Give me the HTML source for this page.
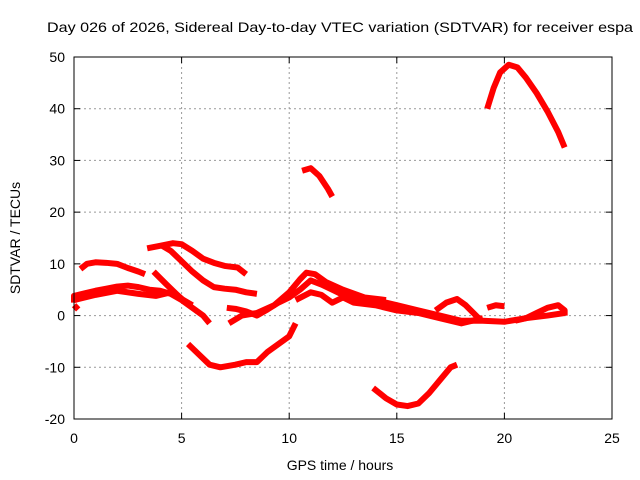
<!DOCTYPE html>
<html><head><meta charset="utf-8"><style>
body{margin:0;background:#fff}
svg{display:block;font-family:"Liberation Sans",sans-serif}
</style></head><body>
<svg id="chart" width="640" height="480">
<text x="47" y="32" font-size="14" textLength="586" lengthAdjust="spacingAndGlyphs">Day 026 of 2026, Sidereal Day-to-day VTEC variation (SDTVAR) for receiver espa</text>
<text x="340" y="470" font-size="14" text-anchor="middle">GPS time / hours</text>
<text transform="translate(20,238) rotate(-90)" font-size="14" text-anchor="middle">SDTVAR / TECUs</text>
<g id="grid"></g><g id="series"></g><g id="axes"></g>
</svg>
<script>
const xTicks=[0,5,10,15,20,25];
const yTicks=[-20,-10,0,10,20,30,40,50];
const track1=[[19.2,40],[19.5,44],[19.8,47],[20.2,48.5],[20.6,48],[21,46],[21.5,43],[22,39.5],[22.5,35.5],[22.8,32.5]];
const track2=[[10.6,28],[11,28.5],[11.4,27],[11.8,24.5],[12,23]];
const track3=[[13.9,-14],[14.5,-16],[15,-17.2],[15.5,-17.5],[16,-17],[16.5,-15],[17,-12.5],[17.5,-10],[17.8,-9.5]];
const track4=[[5.3,-5.5],[5.8,-7.5],[6.3,-9.5],[6.8,-10],[7.5,-9.5],[8,-9],[8.5,-9],[9,-7],[9.5,-5.5],[10,-4],[10.3,-1.5]];
const track5=[[0.3,9],[0.6,10],[1,10.3],[1.5,10.2],[2,10],[2.5,9.2],[3,8.5],[3.3,8]];
const track6=[[3.4,13],[4,13.5],[4.6,14],[5,13.8],[5.5,12.5],[6,11],[6.5,10.2],[7,9.6],[7.6,9.3],[8,8]];
const track7=[[4.1,13.5],[4.5,12.5],[5,10.5],[5.5,8.5],[6,6.8],[6.5,5.5],[7,5.2],[7.5,5],[8,4.5],[8.5,4.2]];
const track8=[[0,2.5],[0,3.8],[0.5,4.3],[1,4.8],[1.5,5.2],[2,5.6],[2.5,5.8],[3,5.5],[3.5,5],[4,4.8],[4.5,4.2],[5,3],[5.5,1.5],[6,0],[6.3,-1.5]];
const track9=[[0,3],[1,4],[2,4.8],[3,4.2],[3.8,3.8],[4.5,4.5],[5,3.2],[5.5,2]];
const track10=[[3.7,8.5],[4.3,6],[4.8,4],[5.2,2.5]];
const track11=[[7.1,1.5],[7.5,1.3],[8,0.8],[8.5,0],[9,1.2],[9.5,2.5],[10,3.5],[10.5,5],[11,6.8],[11.5,6],[12,5],[12.5,4],[13,3.5],[14,3],[15,2],[16,1],[17,0],[18,-1],[19,-1],[20,-1.2],[21,-0.5],[22,0],[22.8,0.5]];
const track12=[[7.2,-1.5],[7.8,0],[8.5,0.5],[9.3,2],[10,4.5],[10.5,7],[10.8,8.3],[11.2,8],[11.7,6.5],[12.5,5],[13.5,3.5],[14.5,3]];
const track13=[[10.3,3],[11,4.5],[11.5,4],[12,2.5],[12.5,3.5],[13,2.5],[14,2],[15,1],[16,0.5],[17,-0.5],[18,-1.5],[19,-0.5]];
const track14=[[16.8,1],[17.3,2.5],[17.8,3.2],[18.2,2],[18.8,-0.5]];
const track15=[[19.2,1.5],[19.6,2],[20,1.8]];
const track16=[[20.5,-1],[21,-0.5],[21.5,0.5],[22,1.5],[22.5,2],[22.8,1],[22.8,0]];
const track17=[[0,1.2],[0.2,2]];
const tracks=[track1,track2,track3,track4,track5,track6,track7,track8,track9,track10,track11,track12,track13,track14,track15,track16,track17];
const X0=74,X1=612,Y0=419,Y1=57;
const xs=v=>X0+(v-0)/25*(X1-X0);
const ys=v=>Y0-(v+20)/70*(Y0-Y1);
const NS="http://www.w3.org/2000/svg";
const grid=document.getElementById('grid'),axes=document.getElementById('axes'),ser=document.getElementById('series');
function mk(tag,attrs,parent){const e=document.createElementNS(NS,tag);for(const k in attrs)e.setAttribute(k,attrs[k]);parent.appendChild(e);return e;}
xTicks.forEach(t=>{
 if(t>0&&t<25){const g=mk('line',{x1:xs(t),x2:xs(t),y1:Y1,y2:Y0,stroke:'#999','stroke-dasharray':'2,3'},grid);
 
 }
 const l=mk('text',{x:xs(t),y:Y0+24,'font-size':14,'text-anchor':'middle'},axes);l.textContent=String(t);
 
 
 mk('line',{x1:xs(t),x2:xs(t),y1:Y0,y2:Y0-6,stroke:'#000'},axes);
 mk('line',{x1:xs(t),x2:xs(t),y1:Y1,y2:Y1+6,stroke:'#000'},axes);
});
yTicks.forEach(t=>{
 if(t>-20&&t<50){const g=mk('line',{x1:X0,x2:X1,y1:ys(t),y2:ys(t),stroke:'#999','stroke-dasharray':'2,3'},grid);
 
 }
 const l=mk('text',{x:X0-9,y:ys(t)+5,'font-size':14,'text-anchor':'end'},axes);l.textContent=String(t).replace('\u2212','-');
 
 
 mk('line',{x1:X0,x2:X0+6,y1:ys(t),y2:ys(t),stroke:'#000'},axes);
 mk('line',{x1:X1,x2:X1-6,y1:ys(t),y2:ys(t),stroke:'#000'},axes);
});
const fr=mk('rect',{x:X0,y:Y1,width:X1-X0,height:Y0-Y1,fill:'none',stroke:'#000'},axes);


tracks.forEach((tr,i)=>{
 const p=mk('polyline',{points:tr.map(d=>xs(d[0])+','+ys(d[1])).join(' '),fill:'none',stroke:'#ff0000','stroke-width':6,'stroke-linejoin':'round','stroke-linecap':'butt'},ser);
 
 
});
</script>
</body></html>
